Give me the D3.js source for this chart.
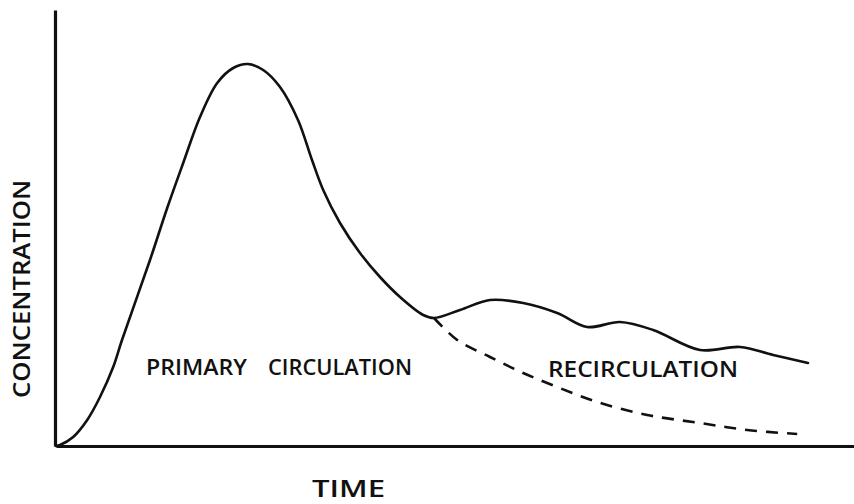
<!DOCTYPE html>
<html>
<head>
<meta charset="utf-8">
<script src="https://cdn.jsdelivr.net/npm/d3@7"></script>
<style>
  body { margin: 0; background: #fff; }
  text { font-family: "Open Sans", "DejaVu Sans", sans-serif; font-weight: 600; fill: #111; }
</style>
</head>
<body>
<svg id="chart"></svg>
<script>
// Chart size
const width = 854;
const height = 504;

// Indicator curve (time, concentration in arbitrary units)
const curveTime = [0, 0.1, 0.43, 0.78, 1.1, 1.43, 1.65, 2.35, 2.78, 3.18, 3.6, 4.03, 4.43, 4.8, 5.18, 5.6, 6.05, 6.4, 6.68, 7.1, 7.6, 8.1, 8.6, 9.18, 9.45,
  10.1, 10.85, 11.68, 12.53, 13.28, 14.1, 14.93, 16.1, 17.1, 17.93, 18.8];
const curveConc = [0, 0.25, 2.25, 6.5, 12.25, 19.75, 26.5, 46.5, 59.5, 70.75, 82.25, 90.75, 94.5, 95.5, 94, 89.75, 81.5, 71.5, 64, 55.75, 48.25, 42.25, 37.25, 32.75, 32,
  34, 36.5, 35.75, 33.25, 29.75, 31, 29, 24, 24.75, 22.75, 20.75];

// Extrapolated decay of the primary circulation (dashed)
const decayTime = [9.45, 10.03, 10.85, 11.68, 12.53, 13.53, 14.78, 16.1, 17.28, 18.53];
const decayConc = [32, 26.5, 22.25, 18.25, 14.75, 11, 7.75, 5.75, 4, 3];

// Labels
const labels = [
  { text: "PRIMARY", t: 2.25, c: 17.75, len: 101 },
  { text: "CIRCULATION", t: 5.3, c: 17.75, len: 144 },
  { text: "RECIRCULATION", t: 12.3, c: 17.25, len: 190 }
];

const svg = d3.select("#chart").attr("width", width).attr("height", height);

// Scales
const x = d3.scaleLinear().domain([0, 20]).range([56, 856]);
const y = d3.scaleLinear().domain([0, 109]).range([446, 10]);

// Axes: plain heavy lines, no ticks
svg.append("g")
  .attr("transform", `translate(0,${y(0)})`)
  .call(d3.axisBottom(x).ticks(0).tickSizeOuter(0))
  .call(g => g.select(".domain").attr("stroke", "#111").attr("stroke-width", 3.2));

svg.append("g")
  .attr("transform", `translate(${x(0) - 1},0)`)
  .call(d3.axisLeft(y).ticks(0).tickSizeOuter(0))
  .call(g => g.select(".domain").attr("stroke", "#111").attr("stroke-width", 3.2));

const line = d3.line()
  .x(d => x(d[0]))
  .y(d => y(d[1]))
  .curve(d3.curveCatmullRom.alpha(0.5));

svg.append("path")
  .datum(d3.zip(curveTime, curveConc))
  .attr("fill", "none")
  .attr("stroke", "#111")
  .attr("stroke-width", 2.6)
  .attr("stroke-linecap", "round")
  .attr("d", line);

svg.append("path")
  .datum(d3.zip(decayTime, decayConc))
  .attr("fill", "none")
  .attr("stroke", "#111")
  .attr("stroke-width", 2.6)
  .attr("stroke-dasharray", "12,9")
  .attr("d", line);

// Region labels
svg.selectAll(".region-label")
  .data(labels)
  .enter()
  .append("text")
  .attr("class", "region-label")
  .attr("x", d => x(d.t))
  .attr("y", d => y(d.c))
  .attr("font-size", 21)
  .attr("textLength", d => d.len)
  .attr("lengthAdjust", "spacingAndGlyphs")
  .text(d => d.text);

// Axis titles
svg.append("text")
  .attr("x", 312)
  .attr("y", 497)
  .attr("font-size", 23)
  .attr("textLength", 73)
  .attr("lengthAdjust", "spacingAndGlyphs")
  .text("TIME");

svg.append("text")
  .attr("transform", "translate(30,398) rotate(-90)")
  .attr("font-size", 23)
  .attr("textLength", 218)
  .attr("lengthAdjust", "spacingAndGlyphs")
  .text("CONCENTRATION");
</script>
</body>
</html>
